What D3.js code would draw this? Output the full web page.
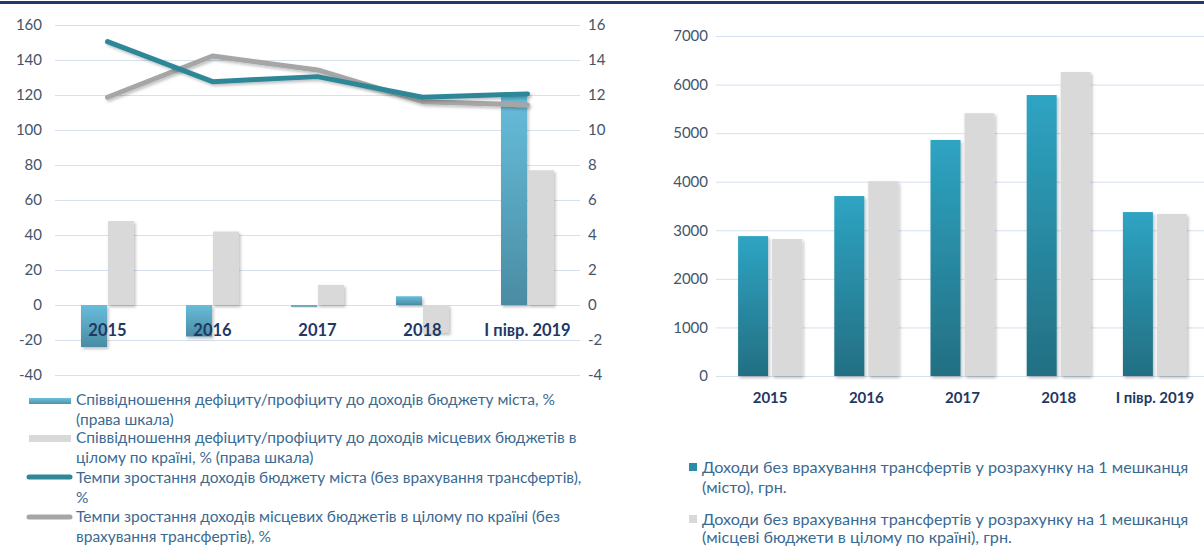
<!DOCTYPE html>
<html>
<head>
<meta charset="utf-8">
<script src="https://cdn.jsdelivr.net/npm/d3@7"></script>
<style>
  html, body { margin: 0; padding: 0; background: #fff; }
  svg { display: block; }
  text { font-family: Lato, "Open Sans", sans-serif; }
</style>
</head>
<body>
<svg id="chart" width="1204" height="546"></svg>
<script>
// ---------- data ----------
const categories = ["2015", "2016", "2017", "2018", "I півр. 2019"];
// left chart, right scale (%)
const cityBalance = [-2.4, -1.8, -0.1, 0.5, 12.0];
const countryBalance = [4.8, 4.2, 1.15, -1.6, 7.7];
// left chart, left scale (%)
const cityGrowth = [150.5, 127.6, 130.5, 118.7, 120.6];
const countryGrowth = [118.7, 142.3, 134.3, 116.2, 114.3];
// right chart (UAH per resident)
const cityIncome = [2880, 3705, 4860, 5785, 3375];
const countryIncome = [2820, 4010, 5410, 6260, 3335];
// ticks
const leftTicks = [-40, -20, 0, 20, 40, 60, 80, 100, 120, 140, 160];
const rightTicks = [-4, -2, 0, 2, 4, 6, 8, 10, 12, 14, 16];
const incomeTicks = [0, 1000, 2000, 3000, 4000, 5000, 6000, 7000];
// legends
const leftLegend = [
  ["Співвідношення дефіциту/профіциту до доходів бюджету міста, %", "(права шкала)"],
  ["Співвідношення дефіциту/профіциту до доходів місцевих бюджетів в", "цілому по країні, % (права шкала)"],
  ["Темпи зростання доходів бюджету міста (без врахування трансфертів),", "%"],
  ["Темпи зростання доходів місцевих бюджетів в цілому по країні (без", "врахування трансфертів), %"]
];
const rightLegend = [
  ["Доходи без врахування трансфертів у розрахунку на 1 мешканця", "(місто), грн."],
  ["Доходи без врахування трансфертів у розрахунку на 1 мешканця", "(місцеві бюджети в цілому по країні), грн."]
];

// ---------- styles ----------
const C = {
  grid: "#d6e0ee",
  tick: "#44546a",
  xlab: "#1f3864",
  legend: "#3a6a92",
  teal: "#2f8797",
  grayLine: "#a6a6a6",
  grayBar: "#d9d9d9",
  border: "#1f3b6e"
};
const plain = d => String(d).replace("\u2212", "-");

const svg = d3.select("#chart");
const defs = svg.append("defs");

const gBlue = defs.append("linearGradient").attr("id", "gBlue").attr("x1", 0).attr("y1", 0).attr("x2", 0).attr("y2", 1);
gBlue.append("stop").attr("offset", "0%").attr("stop-color", "#67bddb");
gBlue.append("stop").attr("offset", "100%").attr("stop-color", "#4a8ca3");
const gTeal = defs.append("linearGradient").attr("id", "gTeal").attr("x1", 0).attr("y1", 0).attr("x2", 0).attr("y2", 1);
gTeal.append("stop").attr("offset", "0%").attr("stop-color", "#2ea4c3");
gTeal.append("stop").attr("offset", "100%").attr("stop-color", "#236f82");
const gLeg = defs.append("linearGradient").attr("id", "gLeg").attr("x1", 0).attr("y1", 0).attr("x2", 0).attr("y2", 1);
gLeg.append("stop").attr("offset", "0%").attr("stop-color", "#6cc0dc");
gLeg.append("stop").attr("offset", "100%").attr("stop-color", "#4d93ab");

const shadow = defs.append("filter").attr("id", "shadow").attr("x", "-10%").attr("y", "-10%").attr("width", "130%").attr("height", "140%");
shadow.append("feDropShadow").attr("dx", 1.5).attr("dy", 2).attr("stdDeviation", 1.5).attr("flood-color", "#000").attr("flood-opacity", 0.25);

// top border
svg.append("rect").attr("x", 0).attr("y", 1).attr("width", 1204).attr("height", 3).attr("fill", C.border);

// ================= LEFT CHART =================
const xL = d3.scaleBand().domain(categories).range([55, 580]);
const yL = d3.scaleLinear().domain([-40, 160]).range([375, 25]);
const yR = d3.scaleLinear().domain([-4, 16]).range([375, 25]);

const left = svg.append("g");

left.append("g").selectAll("line").data(leftTicks).join("line")
  .attr("x1", 55).attr("x2", 580)
  .attr("y1", d => yL(d) + 0.5).attr("y2", d => yL(d) + 0.5)
  .attr("stroke", C.grid).attr("stroke-width", 1);

left.append("g").attr("transform", "translate(42,0)")
  .call(d3.axisLeft(yL).tickValues(leftTicks).tickFormat(plain).tickSize(0).tickPadding(0))
  .call(g => g.select(".domain").remove())
  .call(g => g.selectAll("text").attr("fill", C.tick).attr("font-size", 15));

left.append("g").attr("transform", "translate(588,0)")
  .call(d3.axisRight(yR).tickValues(rightTicks).tickFormat(plain).tickSize(0).tickPadding(0))
  .call(g => g.select(".domain").remove())
  .call(g => g.selectAll("text").attr("fill", C.tick).attr("font-size", 15));

const bw = 26;
left.append("g").selectAll("rect").data(categories).join("rect")
  .attr("x", d => xL(d) + xL.bandwidth() / 2 - bw - 0.5)
  .attr("width", bw)
  .attr("y", (d, i) => Math.min(yR(cityBalance[i]), yR(0)))
  .attr("height", (d, i) => Math.abs(yR(cityBalance[i]) - yR(0)))
  .attr("fill", "url(#gBlue)")
  .attr("filter", "url(#shadow)");

left.append("g").selectAll("rect").data(categories).join("rect")
  .attr("x", d => xL(d) + xL.bandwidth() / 2 + 0.5)
  .attr("width", bw)
  .attr("y", (d, i) => Math.min(yR(countryBalance[i]), yR(0)))
  .attr("height", (d, i) => Math.abs(yR(countryBalance[i]) - yR(0)))
  .attr("fill", C.grayBar)
  .attr("filter", "url(#shadow)");

// x labels (inside plot, below zero line)
left.append("g").attr("transform", `translate(0,${yR(0) + 26})`)
  .call(d3.axisBottom(xL).tickSize(0).tickPadding(0))
  .call(g => g.select(".domain").remove())
  .call(g => g.selectAll("text").attr("fill", C.xlab).attr("font-size", 16.5).attr("font-weight", "bold").attr("dy", "0.32em"));

const lineGen = (arr) => d3.line()
  .x((d, i) => xL(categories[i]) + xL.bandwidth() / 2)
  .y(d => yL(d))(arr);

left.append("path").attr("d", lineGen(countryGrowth))
  .attr("fill", "none").attr("stroke", C.grayLine).attr("stroke-width", 5)
  .attr("stroke-linejoin", "round").attr("stroke-linecap", "round").attr("filter", "url(#shadow)");
left.append("path").attr("d", lineGen(cityGrowth))
  .attr("fill", "none").attr("stroke", C.teal).attr("stroke-width", 5)
  .attr("stroke-linejoin", "round").attr("stroke-linecap", "round").attr("filter", "url(#shadow)");

// left legend
const llg = svg.append("g");
const lRows = [[400, 420], [438, 458], [478, 498], [517, 537]];
llg.append("rect").attr("x", 29).attr("y", 398).attr("width", 42).attr("height", 6).attr("fill", "url(#gLeg)");
llg.append("rect").attr("x", 29).attr("y", 435).attr("width", 42).attr("height", 7).attr("fill", C.grayBar);
llg.append("line").attr("x1", 29).attr("x2", 70).attr("y1", 477).attr("y2", 477)
  .attr("stroke", C.teal).attr("stroke-width", 5).attr("stroke-linecap", "round");
llg.append("line").attr("x1", 29).attr("x2", 70).attr("y1", 517).attr("y2", 517)
  .attr("stroke", C.grayLine).attr("stroke-width", 5).attr("stroke-linecap", "round");
leftLegend.forEach((lines, i) => {
  lines.forEach((t, j) => {
    llg.append("text").attr("x", 76).attr("y", lRows[i][j]).attr("dy", "0.35em")
      .attr("fill", C.legend).attr("font-size", 15.5).text(t);
  });
});

// ================= RIGHT CHART =================
const xI = d3.scaleBand().domain(categories).range([722, 1203]);
const yI = d3.scaleLinear().domain([0, 7000]).range([376, 36]);
const right = svg.append("g");

right.append("g").selectAll("line").data(incomeTicks).join("line")
  .attr("x1", 716).attr("x2", 1204)
  .attr("y1", d => yI(d) + 0.5).attr("y2", d => yI(d) + 0.5)
  .attr("stroke", C.grid).attr("stroke-width", 1);

right.append("g").attr("transform", "translate(708,0)")
  .call(d3.axisLeft(yI).tickValues(incomeTicks).tickFormat(plain).tickSize(0).tickPadding(0))
  .call(g => g.select(".domain").remove())
  .call(g => g.selectAll("text").attr("fill", C.tick).attr("font-size", 15));

const bw2 = 30;
right.append("g").selectAll("rect").data(categories).join("rect")
  .attr("x", d => xI(d) + xI.bandwidth() / 2 - bw2 - 2)
  .attr("width", bw2)
  .attr("y", (d, i) => yI(cityIncome[i]))
  .attr("height", (d, i) => yI(0) - yI(cityIncome[i]))
  .attr("fill", "url(#gTeal)")
  .attr("filter", "url(#shadow)");
right.append("g").selectAll("rect").data(categories).join("rect")
  .attr("x", d => xI(d) + xI.bandwidth() / 2 + 2)
  .attr("width", bw2)
  .attr("y", (d, i) => yI(countryIncome[i]))
  .attr("height", (d, i) => yI(0) - yI(countryIncome[i]))
  .attr("fill", C.grayBar)
  .attr("filter", "url(#shadow)");

right.append("g").attr("transform", "translate(0,398)")
  .call(d3.axisBottom(xI).tickSize(0).tickPadding(0))
  .call(g => g.select(".domain").remove())
  .call(g => g.selectAll("text").attr("fill", C.xlab).attr("font-size", 15).attr("font-weight", "bold").attr("dy", "0.32em"));

// right legend
const rlg = svg.append("g");
const rRows = [[467, 487], [519, 537]];
rlg.append("rect").attr("x", 689).attr("y", 463).attr("width", 8).attr("height", 8).attr("fill", "#2a8ca5");
rlg.append("rect").attr("x", 689).attr("y", 515).attr("width", 8).attr("height", 8).attr("fill", C.grayBar);
rightLegend.forEach((lines, i) => {
  lines.forEach((t, j) => {
    rlg.append("text").attr("x", 702).attr("y", rRows[i][j]).attr("dy", "0.35em")
      .attr("fill", C.legend).attr("font-size", 16.2).text(t);
  });
});
</script>
</body>
</html>
